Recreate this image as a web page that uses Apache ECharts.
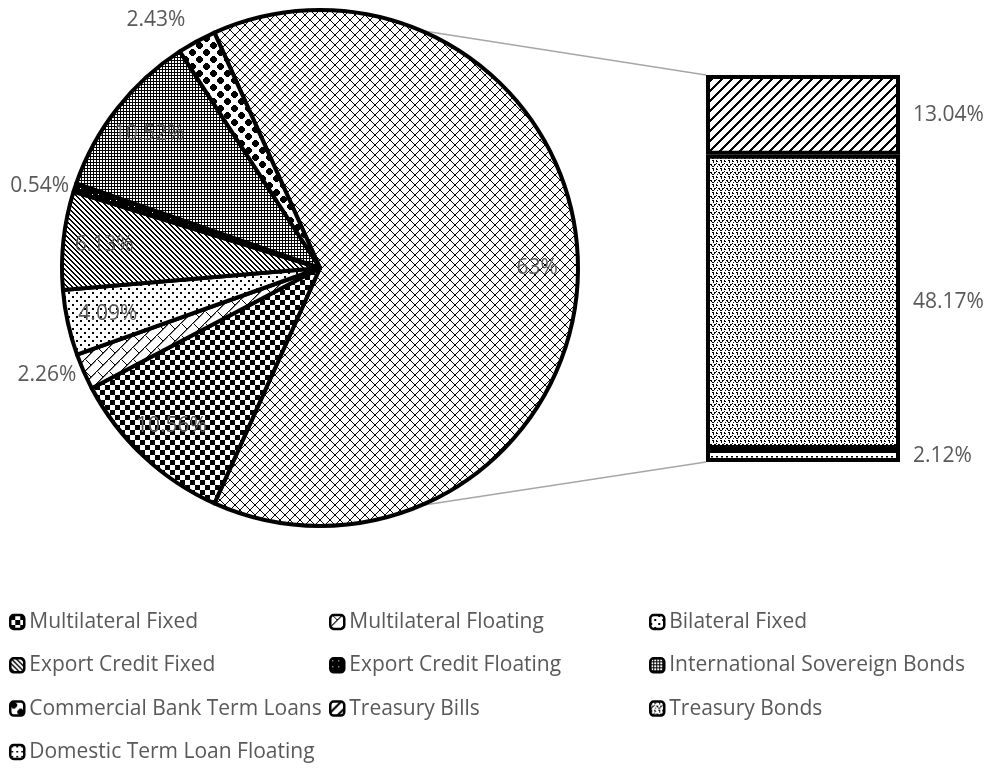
<!DOCTYPE html>
<html>
<head>
<meta charset="utf-8">
<script src="https://cdn.jsdelivr.net/npm/echarts@6/dist/echarts.min.js"></script>
<style>
  html, body { margin: 0; padding: 0; background: #fff; }
  #chart { width: 992px; height: 768px; }
</style>
</head>
<body>
<div id="chart"></div>
<script>
// categories in legend order
const categories = [
  'Multilateral Fixed', 'Multilateral Floating', 'Bilateral Fixed',
  'Export Credit Fixed', 'Export Credit Floating', 'International Sovereign Bonds',
  'Commercial Bank Term Loans', 'Treasury Bills', 'Treasury Bonds',
  'Domestic Term Loan Floating'
]
// first 7 go in the main pie, last 3 in the bar
const mainValues = [10.56, 2.26, 4.09, 6.13, 0.54, 10.52, 2.43]
const barValues = [13.04, 48.17, 2.12]
const otherLabel = '63%'

// layout
const cx = 320, cy = 268, R = 258
const barLeft = 706, barTop = 75, barW = 194, barH = 387
const textColor = '#595959'
const font = 'Open Sans'
const fontSize = 21
// gap between circle and outside labels (small slices)
const outsideGap = {
  'Multilateral Floating': 8,
  'Export Credit Floating': 6,
  'Commercial Bank Term Loans': 24
}

// pattern fills (like the excel ones)
const pat = (size, draw) => {
  const c = document.createElement('canvas')
  c.width = size; c.height = size
  const g = c.getContext('2d')
  g.fillStyle = '#fff'
  g.fillRect(0, 0, size, size)
  g.fillStyle = '#000'
  draw(g, size)
  return {image: c, repeat: 'repeat'}
}
const patterns = [
  // Multilateral Fixed - big checker
  pat(10, g => { g.fillRect(0, 0, 5, 5); g.fillRect(5, 5, 5, 5) }),
  // Multilateral Floating - wide trellis
  pat(12, (g, s) => {
    for (let i = 0; i < s; i++) { g.fillRect(s - 1 - i, i, 1.5, 1) }
    for (let i = 0; i < 5; i++) { g.fillRect(i + 2, i, 1, 1) }
  }),
  // Bilateral Fixed - sparse dots
  pat(8, g => { g.fillRect(0, 0, 2, 2); g.fillRect(4, 4, 2, 2) }),
  // Export Credit Fixed - downward diagonal
  pat(5, (g, s) => {
    for (let i = 0; i < s; i++) { g.fillRect(i, i, 2, 1); if (i === s - 1) g.fillRect(0, i, 1, 1) }
  }),
  // Export Credit Floating - nearly solid
  pat(6, g => { g.fillRect(0, 0, 6, 6); g.fillStyle = '#fff'; g.fillRect(2, 2, 1, 1) }),
  // International Sovereign Bonds - small grid
  pat(3, g => { g.fillRect(0, 0, 3, 1); g.fillRect(0, 0, 1, 3) }),
  // Commercial Bank Term Loans - plus blobs
  pat(14, g => {
    [[3, 3], [10, 10]].forEach(([x, y]) => {
      g.fillRect(x - 1, y - 3, 3, 7); g.fillRect(x - 3, y - 1, 7, 3); g.fillRect(x - 2, y - 2, 5, 5)
    })
  }),
  // Treasury Bills - wide upward diagonal
  pat(10, (g, s) => {
    for (let i = 0; i < s; i++) for (let k = 0; k < 3; k++) g.fillRect((s - 1 - i + k) % s, i, 1, 1)
  }),
  // Treasury Bonds - small confetti
  pat(8, g => {
    [[0, 0, 2, 1], [1, 1, 1, 1], [4, 0, 1, 2], [5, 1, 1, 1], [2, 4, 2, 1], [2, 5, 1, 1],
     [6, 4, 2, 1], [7, 5, 1, 1], [1, 2, 1, 1], [5, 6, 1, 1], [0, 6, 2, 1], [4, 3, 1, 1]]
      .forEach(r => g.fillRect(...r))
  }),
  // Domestic Term Loan Floating - small dots
  pat(5, g => { g.fillRect(1, 1, 2, 1.5) })
]

const otherSum = barValues.reduce((a, b) => a + b, 0)
const total = otherSum + mainValues.reduce((a, b) => a + b, 0)
const otherAngle = otherSum / total * 360

const pieData = [{name: 'Other', value: otherSum, itemStyle: {color: pat(10, (g, s) => {
  for (let i = 0; i < s; i++) { g.fillRect(i, i, 1, 1); g.fillRect(s - 1 - i, i, 1, 1) }
})}}]
mainValues.forEach((v, i) => {
  pieData.push({name: categories[i], value: v, itemStyle: {color: patterns[i]}})
})

// label ring, sits over the pie, only for the percent labels
const labelData = pieData.map((d, i) => {
  const gap = outsideGap[d.name]
  return {
    name: d.name,
    value: d.value,
    label: {
      position: gap !== undefined ? 'outside' : 'inside',
      formatter: i === 0 ? otherLabel : d.value.toFixed(2) + '%'
    },
    labelLine: {show: false, length: gap || 0, length2: 0}
  }
})

const barSeries = []
// stack bottom to top
for (let j = barValues.length - 1; j >= 0; j--) {
  const idx = mainValues.length + j
  barSeries.push({
    name: categories[idx],
    type: 'bar',
    stack: 'other',
    barWidth: '100%',
    data: [barValues[j]],
    itemStyle: {color: patterns[idx], borderColor: '#000', borderWidth: 4},
    label: {
      show: true, position: 'right', distance: 13,
      color: textColor, fontFamily: font, fontSize: fontSize,
      formatter: p => p.value.toFixed(2) + '%'
    },
    emphasis: {disabled: true},
    z: 3
  })
}

const legendCols = [9, 329, 649].map((left, c) => ({
  orient: 'vertical',
  left: left,
  top: 610,
  padding: 0,
  itemWidth: 14,
  itemHeight: 14,
  itemGap: 19.3,
  icon: 'roundRect',
  selectedMode: false,
  itemStyle: {borderColor: '#000', borderWidth: 2.5},
  textStyle: {color: textColor, fontFamily: font, fontSize: fontSize, lineHeight: 24},
  data: categories.filter((_, i) => i % 3 === c)
}))

const a = 67 * Math.PI / 180
const connectors = [
  {x1: cx + R * Math.cos(a), y1: cy - R * Math.sin(a), x2: barLeft, y2: barTop},
  {x1: cx + R * Math.cos(a), y1: cy + R * Math.sin(a), x2: barLeft, y2: barTop + barH}
].map(s => ({
  type: 'line', shape: s, z: 0, silent: true,
  style: {stroke: '#a6a6a6', lineWidth: 1.5}
}))

const chart = echarts.init(document.getElementById('chart'))
chart.setOption({
  animation: false,
  backgroundColor: '#fff',
  legend: legendCols,
  graphic: connectors,
  grid: {left: barLeft, top: barTop, width: barW, height: barH},
  xAxis: {type: 'category', data: ['other'], show: false},
  yAxis: {type: 'value', min: 0, max: otherSum, show: false},
  series: [
    {
      name: 'main',
      type: 'pie',
      center: [cx, cy],
      radius: R,
      startAngle: otherAngle / 2,
      clockwise: true,
      avoidLabelOverlap: false,
      label: {show: false},
      labelLine: {show: false},
      itemStyle: {borderColor: '#000', borderWidth: 4},
      emphasis: {disabled: true},
      data: pieData
    },
    {
      name: 'labels',
      type: 'pie',
      silent: true,
      center: [cx, cy],
      radius: [R * 0.66, R],
      startAngle: otherAngle / 2,
      clockwise: true,
      avoidLabelOverlap: false,
      itemStyle: {color: 'rgba(0,0,0,0)', borderWidth: 0},
      label: {show: true, color: textColor, fontFamily: font, fontSize: fontSize, distanceToLabelLine: 0},
      labelLine: {show: false},
      emphasis: {disabled: true},
      data: labelData,
      z: 4
    },
    ...barSeries
  ]
})
</script>
</body>
</html>
